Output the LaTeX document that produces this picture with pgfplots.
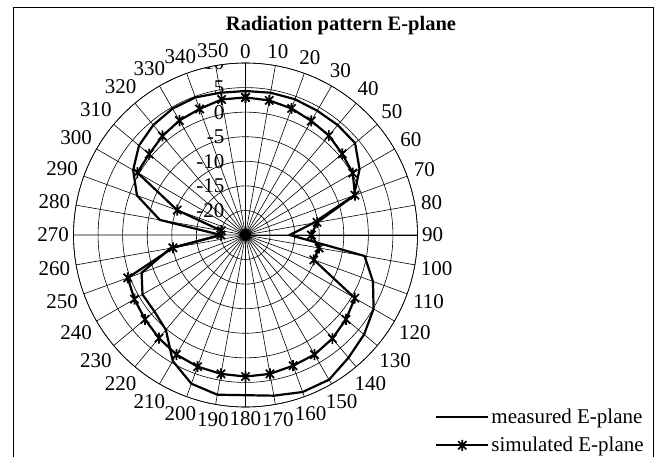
\documentclass[border=0pt]{standalone}
\usepackage{fontspec}
\setmainfont{Liberation Serif}
\usepackage{pgfplots}
\usepackage{pgfplotstable}
\usepgfplotslibrary{polar}
\pgfplotsset{compat=1.18}

% Excel-style star marker: an x with a vertical bar through it
\pgfdeclareplotmark{xstar}{%
    \pgfpathmoveto{\pgfqpoint{0pt}{\pgfplotmarksize}}%
    \pgfpathlineto{\pgfqpoint{0pt}{-\pgfplotmarksize}}%
    \pgfpathmoveto{\pgfqpoint{-.75\pgfplotmarksize}{-.75\pgfplotmarksize}}%
    \pgfpathlineto{\pgfqpoint{.75\pgfplotmarksize}{.75\pgfplotmarksize}}%
    \pgfpathmoveto{\pgfqpoint{-.75\pgfplotmarksize}{.75\pgfplotmarksize}}%
    \pgfpathlineto{\pgfqpoint{.75\pgfplotmarksize}{-.75\pgfplotmarksize}}%
    \pgfusepathqstroke}

% angle in degrees (clockwise from top), values in dB
\pgfplotstableread{
ang meas sim
0    4.3   3.0
10   4.4   2.8
20   4.4   2.4
30   4.2   1.8
40   4.2   1.4
50   4.1   0.7
60   1.8   0.2
70  -1.5  -1.3
80  -11.0 -10.2
90  -16.0 -11.6
100 -0.4  -9.8
110  2.6  -10.2
120  5.1   0.7
130  6.5   1.7
140  7.6   2.5
150  9.0   3.1
160  9.0   3.3
170  8.2   3.7
180  7.6   3.8
190  8.0   3.7
200  7.2   3.5
210  4.6   3.1
220  0.2   2.4
230 -0.8   1.7
240 -0.8   1.1
250 -2.5   0.5
260 -9.5  -10.0
270 -20.0 -20.0
280 -7.3  -20.0
290 -1.5  -10.2
300  1.4   0.4
310  3.3   0.6
320  4.2   1.3
330  4.7   1.9
340  4.8   2.3
350  4.4   3.0
360  4.3   3.0
}\radtable

\pgfplotsset{
    radleg/.style={legend image code/.code={%
        \draw[mark repeat=2,mark phase=2,##1] plot coordinates {(0pt,0pt) (26pt,0pt) (52pt,0pt)};}},
}

\begin{document}
\begin{tikzpicture}
\useasboundingbox (0pt,0pt) rectangle (665pt,-457pt);
\draw[line width=0.9pt] (13pt,-7pt) rectangle (653pt,-500pt);
\node[font=\fontsize{20.5}{24}\selectfont\bfseries] at (341pt,-26pt) {Radiation pattern E-plane};
\begin{polaraxis}[
    at={(245.5pt,-235pt)}, anchor=center,
    scale only axis, width=344pt, height=344pt,
    xmin=0, xmax=360, ymin=0, ymax=35,
    xtick={0,10,...,350},
    xticklabel={\pgfmathparse{int(round(mod(450-\tick,360)))}\pgfmathresult},
    ytick={5,10,...,35}, yticklabels={},
    tick label style={font=\fontsize{21}{25}\selectfont},
    xticklabel style={inner sep=4.5pt},
    major tick length=0pt,
    grid=major,
    major grid style={black, line width=0.6pt},
    axis line style={black, line width=0.6pt},
    extra x ticks={90}, extra x tick labels={},
    extra x tick style={grid=major, major grid style={black, line width=1.4pt}},
    legend style={at={(1.051,0.0)}, anchor=north west, draw=none, fill=none,
        font=\fontsize{21}{25}\selectfont, row sep=8pt, inner sep=0pt},
    legend cell align=left,
    radleg,
]
\addplot[black, line width=2.2pt, no markers]
    table[x expr={mod(450-\thisrow{ang},360)}, y expr={\thisrow{meas}+25}] {\radtable};
\addlegendentry{measured E-plane}
\addplot[black, line width=2.2pt, mark=xstar, mark size=5.5pt, mark options={line width=1.7pt}]
    table[x expr={mod(450-\thisrow{ang},360)}, y expr={\thisrow{sim}+25}] {\radtable};
\addlegendentry{simulated E-plane}
% radial scale labels along the 0 degree spoke
\node[anchor=east, inner sep=0pt, xshift=-21pt, font=\fontsize{21}{25}\selectfont] at (axis cs:90,35) {10};
\node[anchor=east, inner sep=0pt, xshift=-21pt, font=\fontsize{21}{25}\selectfont] at (axis cs:90,30) {5};
\node[anchor=east, inner sep=0pt, xshift=-21pt, font=\fontsize{21}{25}\selectfont] at (axis cs:90,25) {0};
\node[anchor=east, inner sep=0pt, xshift=-21pt, font=\fontsize{21}{25}\selectfont] at (axis cs:90,20) {-5};
\node[anchor=east, inner sep=0pt, xshift=-21pt, font=\fontsize{21}{25}\selectfont] at (axis cs:90,15) {-10};
\node[anchor=east, inner sep=0pt, xshift=-21pt, font=\fontsize{21}{25}\selectfont] at (axis cs:90,10) {-15};
\node[anchor=east, inner sep=0pt, xshift=-21pt, font=\fontsize{21}{25}\selectfont] at (axis cs:90,5) {-20};
\end{polaraxis}
\end{tikzpicture}
\end{document}
